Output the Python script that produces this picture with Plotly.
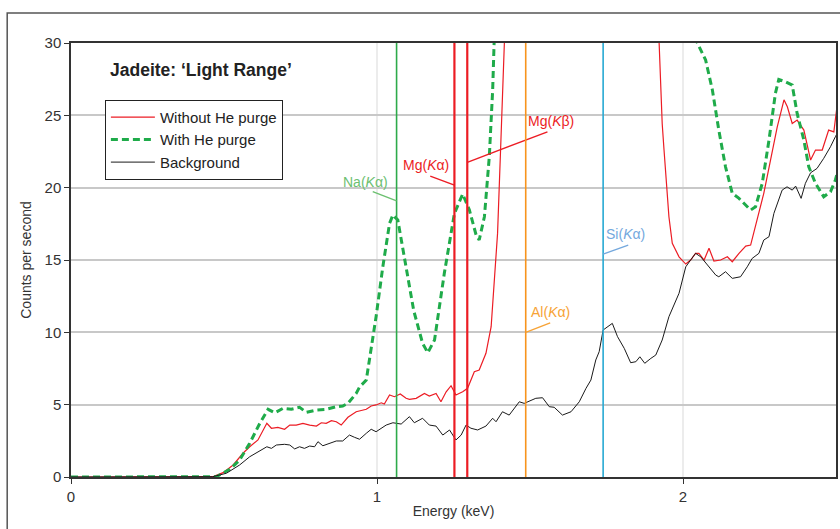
import plotly.graph_objects as go

# ---------------- data ----------------
bg_e = [0.0, 0.30, 0.45, 0.463, 0.508, 0.551, 0.584, 0.606, 0.627, 0.640, 0.655, 0.671, 0.698, 0.715,
        0.731, 0.747, 0.763, 0.780, 0.796, 0.807, 0.823, 0.845, 0.867, 0.888, 0.910, 0.927, 0.943,
        0.965, 0.981, 0.997, 1.014, 1.030, 1.052, 1.079, 1.106, 1.122, 1.149, 1.171, 1.193, 1.215,
        1.237, 1.258, 1.275, 1.291, 1.307, 1.329, 1.356, 1.378, 1.389, 1.410, 1.432, 1.465, 1.481,
        1.503, 1.519, 1.541, 1.563, 1.579, 1.606, 1.634, 1.661, 1.683, 1.699, 1.715, 1.726, 1.739,
        1.753, 1.769, 1.786, 1.808, 1.829, 1.846, 1.859, 1.875, 1.895, 1.911, 1.932, 1.954, 1.987,
        2.009, 2.025, 2.041, 2.058, 2.085, 2.107, 2.117, 2.139, 2.161, 2.188, 2.210, 2.226, 2.248,
        2.264, 2.281, 2.297, 2.324, 2.340, 2.357, 2.368, 2.386, 2.400, 2.417, 2.438, 2.460, 2.482,
        2.498, 2.51]
bg_c = [0.0, 0.0, 0.0, 0.02, 0.26, 0.83, 1.40, 1.68, 1.98, 2.09, 1.98, 2.21, 2.26, 2.21,
        1.94, 2.09, 1.98, 2.14, 2.09, 2.44, 2.16, 2.33, 2.49, 2.49, 2.90, 2.74, 2.61,
        3.02, 3.30, 3.13, 3.37, 3.59, 3.75, 3.66, 4.17, 3.75, 4.06, 3.59, 3.52, 2.90,
        3.25, 2.56, 2.90, 3.59, 3.37, 3.25, 3.52, 4.06, 3.82, 4.51, 4.28, 5.20, 5.09,
        5.32, 5.44, 5.48, 4.86, 4.82, 4.28, 4.51, 5.20, 6.13, 6.70, 8.09, 8.66, 10.16,
        10.39, 10.62, 9.70, 8.89, 7.90, 7.97, 8.31, 7.86, 8.20, 8.43, 9.47, 11.08, 12.70,
        14.53, 15.00, 15.46, 15.22, 14.53, 13.96, 13.84, 14.19, 13.73, 13.84, 14.53, 15.11, 15.46,
        16.38, 16.61, 18.22, 19.83, 20.06, 19.83, 20.11, 19.26, 20.30, 21.03, 21.33, 22.03, 22.83,
        23.52, 24.0]

nohe_e = [0.0, 0.30, 0.45, 0.463, 0.497, 0.530, 0.562, 0.584, 0.611, 0.627, 0.640, 0.655, 0.676, 0.698,
          0.715, 0.736, 0.758, 0.780, 0.802, 0.818, 0.834, 0.851, 0.867, 0.883, 0.905, 0.932, 0.965,
          0.981, 0.997, 1.014, 1.024, 1.041, 1.057, 1.076, 1.095, 1.106, 1.128, 1.155, 1.171, 1.193,
          1.209, 1.226, 1.242, 1.258, 1.280, 1.296, 1.318, 1.334, 1.356, 1.373, 1.383, 1.394, 1.405,
          1.416, 1.44, 1.50, 1.60, 1.75, 1.85, 1.90, 1.922, 1.932, 1.938, 1.954, 1.965, 1.987, 2.009,
          2.025, 2.041, 2.052, 2.069, 2.085, 2.101, 2.123, 2.145, 2.161, 2.183, 2.205, 2.221, 2.243,
          2.264, 2.286, 2.308, 2.330, 2.341, 2.357, 2.373, 2.395, 2.417, 2.433, 2.455, 2.476, 2.493,
          2.503, 2.51]
nohe_c = [0.0, 0.0, 0.0, 0.02, 0.30, 0.83, 1.64, 2.09, 2.56, 3.25, 3.71, 3.37, 3.43, 3.30,
          3.59, 3.59, 3.71, 3.59, 3.52, 3.75, 3.71, 3.89, 3.82, 3.59, 4.13, 4.51, 4.68,
          4.91, 4.98, 5.13, 5.04, 5.67, 5.55, 5.74, 5.44, 5.37, 5.44, 5.78, 5.60, 5.78,
          5.20, 5.89, 6.31, 5.67, 5.89, 6.13, 7.28, 7.39, 8.55, 10.39, 13.39, 16.84, 23.29,
          30.2, 45.0, 80.0, 70.0, 75.0, 55.0, 40.0, 30.0, 24.44, 22.60, 17.99, 16.15, 15.22, 14.72,
          15.00, 15.46, 15.46, 15.00, 15.81, 14.93, 15.00, 15.22, 14.88, 15.46, 15.96, 16.03, 17.76,
          19.61, 21.91, 24.21, 26.07, 25.59, 24.44, 24.67, 23.98, 21.91, 22.60, 22.60, 23.98, 23.86,
          25.59, 26.5]

he_e = [0.0, 0.30, 0.46, 0.475, 0.519, 0.551, 0.584, 0.617, 0.644, 0.666, 0.693, 0.720, 0.747, 0.769,
        0.802, 0.834, 0.867, 0.888, 0.905, 0.932, 0.943, 0.965, 0.997, 1.019, 1.041, 1.052, 1.068,
        1.079, 1.095, 1.120, 1.149, 1.166, 1.188, 1.220, 1.253, 1.280, 1.302, 1.324, 1.334, 1.351,
        1.367, 1.378, 1.383, 1.42, 1.50, 1.65, 1.80, 1.95, 2.02, 2.047, 2.074, 2.096, 2.117, 2.139,
        2.161, 2.183, 2.205, 2.221, 2.237, 2.259, 2.281, 2.302, 2.313, 2.335, 2.357, 2.373, 2.395,
        2.411, 2.433, 2.460, 2.482, 2.498, 2.51]
he_c = [0.0, 0.0, 0.0, 0.02, 0.53, 1.17, 2.33, 3.71, 4.68, 4.44, 4.75, 4.68, 4.82, 4.47,
        4.63, 4.68, 4.86, 4.91, 5.09, 5.78, 6.22, 6.70, 11.08, 14.53, 17.53, 18.11, 17.76,
        16.38, 14.53, 11.50, 9.24, 8.59, 9.47, 14.08, 18.22, 19.56, 18.45, 16.72, 16.38, 17.99,
        22.14, 26.75, 30.2, 50.0, 85.0, 70.0, 60.0, 40.0, 33.0, 30.0, 28.82, 26.75, 23.98, 21.44,
        19.61, 19.26, 18.80, 18.45, 18.68, 20.30, 23.29, 26.52, 27.48, 27.32, 27.09, 25.13, 23.29,
        21.44, 20.30, 19.37, 19.72, 20.53, 21.5]

# element lines: label, energy, text position (E, counts), leader start (E, counts), colours, width
line_labels = ["Na(<i>K</i>α)", "Mg(<i>K</i>α)", "Mg(<i>K</i>β)", "Al(<i>K</i>α)", "Si(<i>K</i>α)"]
line_energy = [1.064, 1.253, 1.295, 1.486, 1.739]
label_pos = [(0.962, 20.39), (1.160, 21.56), (1.568, 24.62), (1.566, 11.38), (1.811, 16.79)]
leader_from = [(0.986, 19.72), (1.174, 20.80), (1.557, 23.86), (1.566, 10.66), (1.821, 16.03)]
leader_to_c = [19.09, 20.18, 21.75, 10.00, 15.41]
line_colors = ["#2daa4a", "#ec1c24", "#ec1c24", "#f7941d", "#27a9d3"]
text_colors = ["#6cc070", "#ec1c24", "#ec1c24", "#f7a336", "#74a8dd"]
line_widths = [1.6, 2.2, 2.2, 1.6, 1.6]

x_ticks = [0, 1, 2]
y_ticks = [0, 5, 10, 15, 20, 25, 30]

FONT = "Liberation Sans"

fig = go.Figure()
fig.add_trace(go.Scatter(x=nohe_e, y=nohe_c, mode="lines", name="Without He purge",
                         line=dict(color="#ec1c24", width=1.2)))
fig.add_trace(go.Scatter(x=he_e, y=he_c, mode="lines", name="With He purge",
                         line=dict(color="#1fab4a", width=3, dash="7px,4px")))
fig.add_trace(go.Scatter(x=bg_e, y=bg_c, mode="lines", name="Background",
                         line=dict(color="#1a1a1a", width=1)))

shapes = []
annotations = []
for lab, e, tp, lf, lt, lc, tc, lw in zip(line_labels, line_energy, label_pos, leader_from,
                                          leader_to_c, line_colors, text_colors, line_widths):
    shapes.append(dict(type="line", xref="x", yref="y", x0=e, x1=e, y0=0, y1=30,
                       line=dict(color=lc, width=lw), layer="above"))
    shapes.append(dict(type="line", xref="x", yref="y", x0=lf[0], y0=lf[1], x1=e, y1=lt,
                       line=dict(color=tc, width=1.4), layer="above"))
    annotations.append(dict(x=tp[0], y=tp[1], xref="x", yref="y", text=lab, showarrow=False,
                            font=dict(family=FONT, size=14, color=tc), xanchor="center", yanchor="middle"))

# outer frame of the figure
shapes.append(dict(type="rect", xref="paper", yref="paper", x0=-0.0834, x1=1.2, y0=-0.3, y1=1.069,
                   line=dict(color="#555555", width=1.5), fillcolor="rgba(0,0,0,0)", layer="below"))

annotations.append(dict(x=0.049, y=0.938, xref="paper", yref="paper", text="<b>Jadeite: ‘Light Range’</b>",
                        showarrow=False, xanchor="left", yanchor="middle",
                        font=dict(family=FONT, size=17.5, color="#222222")))

fig.update_layout(
    width=840, height=529,
    margin=dict(l=71, r=2, t=43, b=52),
    paper_bgcolor="white", plot_bgcolor="white",
    font=dict(family=FONT, size=13, color="#333333"),
    shapes=shapes, annotations=annotations,
    legend=dict(x=0.0443, y=0.869, xanchor="left", yanchor="top",
                bgcolor="white", bordercolor="#222222", borderwidth=1,
                font=dict(family=FONT, size=15, color="#222222"),
                itemwidth=44, tracegroupgap=0),
    showlegend=True,
)
fig.update_xaxes(range=[0, 2.5], tickvals=x_ticks, ticktext=[str(v) for v in x_ticks],
                 showgrid=True, gridcolor="#ececec", gridwidth=1.5,
                 showline=True, linecolor="#333333", linewidth=1.5, mirror=True,
                 ticks="outside", ticklen=5, tickcolor="#333333",
                 tickfont=dict(family=FONT, size=15, color="#333333"),
                 title=dict(text="Energy (keV)", font=dict(family=FONT, size=14, color="#333333"), standoff=2),
                 zeroline=False)
fig.update_yaxes(range=[0, 30], tickvals=y_ticks, ticktext=[str(v) for v in y_ticks],
                 showgrid=True, gridcolor="#c8c8c8", gridwidth=1.5,
                 showline=True, linecolor="#333333", linewidth=1.5, mirror=True,
                 ticks="outside", ticklen=5, tickcolor="#333333",
                 tickfont=dict(family=FONT, size=15, color="#333333"),
                 title=dict(text="Counts per second", font=dict(family=FONT, size=14, color="#333333"), standoff=10),
                 zeroline=False)

fig.write_html("out.html")
